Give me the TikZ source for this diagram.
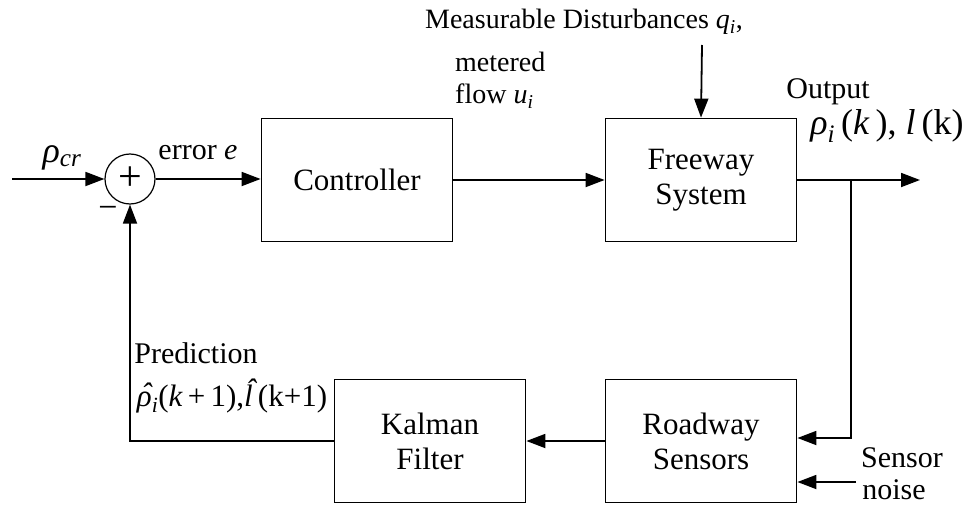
\documentclass[tikz,border=0pt]{standalone}
\usepackage{fontspec}
\setmainfont{Liberation Serif}
\usetikzlibrary{arrows.meta}
\newcommand\hatrho{{\ooalign{ρ\cr\hidewidth\kern0.12em\raisebox{0.05em}{\char"02C6}\hidewidth\cr}}}
\newcommand\hatell{{\ooalign{l\cr\hidewidth\kern0.15em\raisebox{0.2em}{\char"02C6}\hidewidth\cr}}}
\begin{document}
\begin{tikzpicture}[x=1pt,y=-1pt,
  blk/.style={draw,line width=1.8pt,minimum width=191pt,minimum height=123pt,align=center,font=\fontsize{31}{35}\selectfont},
  lbl/.style={font=\fontsize{30}{33}\selectfont,inner sep=0pt},
  slbl/.style={font=\fontsize{28}{32}\selectfont,inner sep=0pt},
  mth/.style={font=\fontsize{36}{40}\selectfont,inner sep=0pt},
  sumc/.style={draw,circle,line width=1.2pt,minimum size=50pt,inner sep=0pt,font=\fontsize{42}{44}\selectfont},
  arr/.style={line width=1.8pt,-{Triangle[length=19pt,width=14pt]}},
  ln/.style={line width=1.8pt}]
\useasboundingbox (0,0) rectangle (969,508);
\node[sumc] (sum) at (130,179) {+};
\coordinate (in) at (12,179);
\node[blk] (ctrl) at (357,180) {Controller};
\node[blk] (fw) at (701,180) {Freeway\\System};
\node[blk] (rs) at (701,441) {Roadway\\Sensors};
\node[blk] (kf) at (430,441) {Kalman\\Filter};
\coordinate (dist) at (702,45);
\coordinate (out) at (920,180);
\coordinate (br) at (851,180);
\coordinate (brd) at (851,438);
\coordinate (noise) at (856,482);
\coordinate (fbc) at (130,441);
% labels
\node[mth] (rcr) at (62,158) {\itshape ρ\textsubscript{cr}};
\node[lbl] (err) at (198,153) {error \textit{e}};
\node[font=\fontsize{34}{36}\selectfont,inner sep=0pt] (minus) at (108,212) {−};
\node[slbl,anchor=west] (met1) at (455,62) {metered};
\node[slbl,anchor=west] (met2) at (455,96) {flow \textit{u\textsubscript{i}}};
\node[slbl] (mdist) at (584,22) {Measurable Disturbances \textit{q\textsubscript{i}},};
\node[lbl] (outl) at (828,92) {Output};
\node[mth] (outv) at (887,126) {\itshape ρ\textsubscript{i}\,\upshape(\textit{k}\,), \textit{l}\,(k)};
\node[lbl] (sn1) at (902,458) {Sensor};
\node[lbl] (sn2) at (894,490) {noise};
\node[lbl] (pred) at (196,353) {Prediction};
\node[font=\fontsize{31}{35}\selectfont,inner sep=0pt] (predv) at (232,399) {\itshape \hatrho\textsubscript{i}\upshape(\textit{k}\,+\,1),\textit{\hatell}\,(k+1)};
% connectors
\draw[arr] (in) -- (sum.west);
\draw[arr] (sum.east) -- (ctrl.west |- sum.east);
\draw[arr] (ctrl.east) -- (fw.west);
\draw[arr] (dist) -- (fw.north);
\draw[arr] (fw.east) -- (out);
\draw[arr] (br) -- (brd) -- (rs.east |- brd);
\draw[arr] (noise) -- (rs.east |- noise);
\draw[arr] (rs.west) -- (kf.east);
\draw[arr] (kf.west) -- (fbc) -- (sum.south);
\end{tikzpicture}
\end{document}
